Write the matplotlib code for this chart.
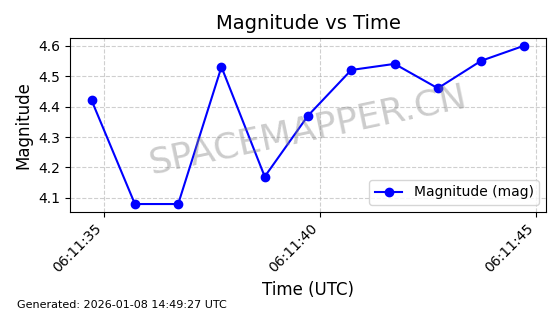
import matplotlib
matplotlib.use("Agg")
import matplotlib.pyplot as plt
import matplotlib.dates as mdates
import pandas as pd

# time of each observation (UTC) and measured magnitude
times = ["2026-01-08 06:11:34.72", "2026-01-08 06:11:35.72", "2026-01-08 06:11:36.72",
         "2026-01-08 06:11:37.72", "2026-01-08 06:11:38.72", "2026-01-08 06:11:39.72",
         "2026-01-08 06:11:40.72", "2026-01-08 06:11:41.72", "2026-01-08 06:11:42.72",
         "2026-01-08 06:11:43.72", "2026-01-08 06:11:44.72"]
magnitude = [4.42, 4.08, 4.08, 4.53, 4.17, 4.37, 4.52, 4.54, 4.46, 4.55, 4.60]
generated = "Generated: 2026-01-08 14:49:27 UTC"

t = pd.to_datetime(times)

fig, ax = plt.subplots(figsize=(5.6, 3.14), dpi=100)
ax.plot(t, magnitude, 'o-', color='blue', label='Magnitude (mag)')
ax.set_title("Magnitude vs Time", fontsize=14)
ax.set_xlabel("Time (UTC)", fontsize=12)
ax.set_ylabel("Magnitude", fontsize=12)
ax.grid(True, linestyle='--', alpha=0.6)
ax.legend(loc='lower right')
ax.xaxis.set_major_locator(mdates.SecondLocator(bysecond=range(0, 60, 5)))
ax.xaxis.set_major_formatter(mdates.DateFormatter('%H:%M:%S'))
plt.setp(ax.get_xticklabels(), rotation=45, ha='right')

# watermark
ax.text(0.5, 0.47, "SPACEMAPPER.CN", transform=ax.transAxes, fontsize=26,
        color='gray', alpha=0.4, rotation=12, ha='center', va='center')
fig.text(0.03, 0.02, generated, fontsize=8)

plt.subplots_adjust(left=0.125, right=0.975, top=0.88, bottom=0.325)
plt.savefig("out.png")
